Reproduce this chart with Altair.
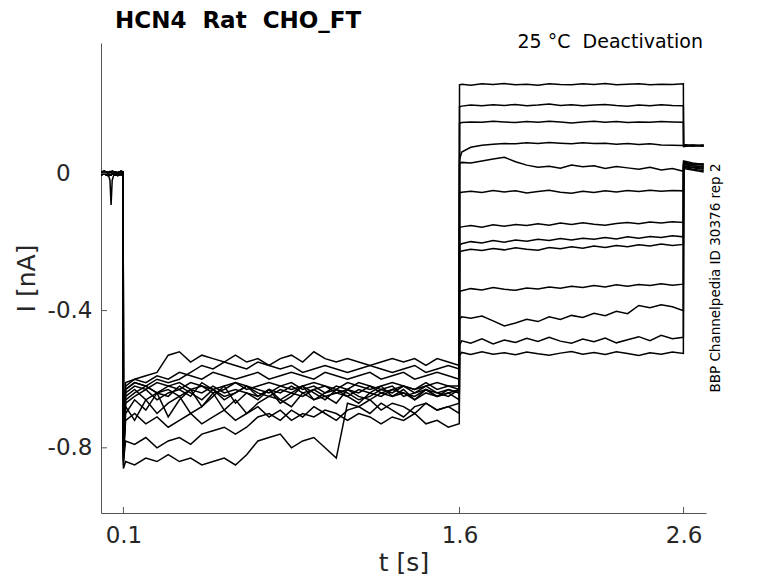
import altair as alt
import pandas as pd

# ---------------- data ----------------
t_hold = [0.0, 0.015, 0.03, 0.04, 0.045, 0.05, 0.06, 0.075, 0.09, 0.099]
t_step = [0.1, 0.11, 0.15, 0.2, 0.25, 0.3, 0.35, 0.4, 0.45, 0.5, 0.55, 0.6, 0.65, 0.7, 0.75,
          0.8, 0.85, 0.9, 0.95, 1.0, 1.05, 1.1, 1.15, 1.2, 1.25, 1.3, 1.35, 1.4, 1.45, 1.5, 1.55, 1.599]
t_test = [1.6, 1.61, 1.65, 1.7, 1.75, 1.8, 1.85, 1.9, 1.95, 2.0, 2.05, 2.1, 2.15, 2.2, 2.25,
          2.3, 2.35, 2.4, 2.45, 2.5, 2.55, 2.599]
t_tail = [2.6, 2.64, 2.69]

hold_a = [0.004, 0.006, 0.002, 0.005, 0.003, 0.006, 0.004, 0.002, 0.006, 0.004]
hold_b = [-0.004, -0.002, -0.006, -0.003, -0.005, -0.002, -0.004, -0.006, -0.003, -0.004]
hold_dip = [0.001, -0.001, 0.002, -0.02, -0.092, -0.02, 0.001, -0.002, 0.003, 0.001]

step_U1 = [-0.80, -0.62, -0.60, -0.59, -0.58, -0.53, -0.52, -0.55, -0.53, -0.54, -0.55, -0.53, -0.55, -0.54, -0.56, -0.54,
           -0.53, -0.55, -0.52, -0.54, -0.55, -0.54, -0.55, -0.56, -0.55, -0.54, -0.55, -0.54, -0.56, -0.54, -0.55, -0.56]
step_U2 = [-0.82, -0.63, -0.61, -0.62, -0.60, -0.61, -0.60, -0.58, -0.56, -0.57, -0.55, -0.56, -0.57, -0.55, -0.56, -0.57,
           -0.56, -0.58, -0.57, -0.56, -0.57, -0.58, -0.57, -0.56, -0.57, -0.58, -0.57, -0.56, -0.58, -0.57, -0.56, -0.57]
step_U3 = [-0.79, -0.61, -0.60, -0.61, -0.59, -0.60, -0.58, -0.59, -0.60, -0.58, -0.59, -0.60, -0.59, -0.58, -0.60, -0.59,
           -0.58, -0.59, -0.60, -0.58, -0.59, -0.60, -0.59, -0.58, -0.60, -0.59, -0.58, -0.60, -0.59, -0.58, -0.59, -0.60]
step_B1 = [-0.83, -0.64, -0.62, -0.63, -0.61, -0.62, -0.63, -0.61, -0.62, -0.63, -0.62, -0.61, -0.63, -0.62, -0.61, -0.62,
           -0.63, -0.62, -0.61, -0.62, -0.63, -0.61, -0.62, -0.63, -0.62, -0.61, -0.62, -0.63, -0.62, -0.61, -0.62, -0.63]
step_B2 = [-0.85, -0.66, -0.64, -0.62, -0.64, -0.63, -0.65, -0.63, -0.64, -0.62, -0.64, -0.63, -0.64, -0.65, -0.63, -0.64,
           -0.62, -0.64, -0.63, -0.65, -0.64, -0.63, -0.64, -0.62, -0.64, -0.63, -0.64, -0.65, -0.63, -0.64, -0.63, -0.64]
step_B3 = [-0.81, -0.65, -0.63, -0.66, -0.64, -0.65, -0.62, -0.64, -0.66, -0.63, -0.65, -0.64, -0.62, -0.64, -0.65, -0.63,
           -0.64, -0.65, -0.63, -0.62, -0.64, -0.65, -0.63, -0.64, -0.65, -0.63, -0.62, -0.64, -0.63, -0.65, -0.64, -0.63]
step_B4 = [-0.84, -0.70, -0.66, -0.69, -0.64, -0.71, -0.66, -0.63, -0.68, -0.65, -0.62, -0.67, -0.64, -0.66, -0.63, -0.67,
           -0.65, -0.62, -0.66, -0.64, -0.63, -0.65, -0.67, -0.64, -0.62, -0.65, -0.64, -0.66, -0.63, -0.65, -0.64, -0.66]
step_B5 = [-0.80, -0.68, -0.72, -0.66, -0.70, -0.67, -0.65, -0.70, -0.68, -0.64, -0.69, -0.66, -0.70, -0.67, -0.65, -0.66,
           -0.68, -0.64, -0.66, -0.65, -0.67, -0.63, -0.65, -0.66, -0.64, -0.65, -0.63, -0.66, -0.64, -0.65, -0.63, -0.64]
step_B6 = [-0.78, -0.63, -0.61, -0.62, -0.64, -0.62, -0.61, -0.63, -0.62, -0.64, -0.63, -0.61, -0.62, -0.63, -0.64, -0.62,
           -0.61, -0.63, -0.62, -0.64, -0.62, -0.63, -0.61, -0.62, -0.63, -0.64, -0.62, -0.63, -0.61, -0.63, -0.62, -0.62]
step_B7 = [-0.82, -0.67, -0.65, -0.63, -0.66, -0.64, -0.63, -0.65, -0.61, -0.63, -0.66, -0.64, -0.62, -0.65, -0.63, -0.66,
           -0.64, -0.62, -0.64, -0.66, -0.63, -0.64, -0.66, -0.65, -0.63, -0.62, -0.65, -0.64, -0.62, -0.64, -0.65, -0.63]
step_M1 = [-0.82, -0.72, -0.70, -0.73, -0.71, -0.74, -0.72, -0.70, -0.73, -0.71, -0.69, -0.72, -0.70, -0.68, -0.71, -0.69,
           -0.72, -0.70, -0.71, -0.69, -0.70, -0.72, -0.70, -0.71, -0.73, -0.71, -0.72, -0.70, -0.73, -0.72, -0.74, -0.73]
step_M2 = [-0.84, -0.78, -0.79, -0.77, -0.80, -0.78, -0.77, -0.79, -0.76, -0.75, -0.74, -0.76, -0.74, -0.71, -0.70, -0.72,
           -0.69, -0.71, -0.68, -0.70, -0.72, -0.69, -0.68, -0.70, -0.67, -0.69, -0.71, -0.68, -0.67, -0.69, -0.68, -0.70]
step_L1 = [-0.86, -0.84, -0.85, -0.83, -0.84, -0.82, -0.84, -0.83, -0.85, -0.84, -0.83, -0.85, -0.82, -0.78, -0.77, -0.76,
           -0.80, -0.78, -0.77, -0.80, -0.83, -0.67, -0.68, -0.66, -0.69, -0.67, -0.68, -0.70, -0.67, -0.69, -0.68, -0.67]

test_T1 = [0.258, 0.260, 0.257, 0.261, 0.259, 0.262, 0.258, 0.260, 0.257, 0.261, 0.259, 0.258, 0.261, 0.259, 0.262, 0.258,
           0.260, 0.261, 0.258, 0.260, 0.259, 0.261]
test_T2 = [0.194, 0.196, 0.199, 0.197, 0.200, 0.198, 0.201, 0.197, 0.199, 0.202, 0.198, 0.200, 0.197, 0.199, 0.201, 0.198,
           0.196, 0.199, 0.197, 0.200, 0.198, 0.197]
test_T3 = [0.146, 0.148, 0.150, 0.149, 0.152, 0.150, 0.148, 0.151, 0.149, 0.152, 0.150, 0.147, 0.150, 0.152, 0.149, 0.151,
           0.148, 0.150, 0.149, 0.151, 0.150, 0.149]
test_T4 = [0.040, 0.062, 0.076, 0.082, 0.085, 0.087, 0.086, 0.089, 0.087, 0.090, 0.088, 0.086, 0.089, 0.087, 0.088, 0.085,
           0.087, 0.084, 0.086, 0.083, 0.082, 0.081]
test_T5 = [0.028, 0.032, 0.030, 0.036, 0.042, 0.047, 0.034, 0.024, 0.018, 0.021, 0.015, 0.024, 0.019, 0.022, 0.014, 0.020,
           0.016, 0.012, 0.018, 0.010, 0.014, 0.006]
test_T6 = [-0.057, -0.055, -0.052, -0.056, -0.050, -0.054, -0.051, -0.057, -0.053, -0.049, -0.055, -0.058, -0.052, -0.056,
           -0.051, -0.054, -0.050, -0.053, -0.049, -0.052, -0.050, -0.051]
test_T7 = [-0.158, -0.156, -0.152, -0.157, -0.150, -0.154, -0.149, -0.152, -0.147, -0.151, -0.145, -0.149, -0.144, -0.148,
           -0.151, -0.146, -0.143, -0.147, -0.142, -0.145, -0.141, -0.143]
test_T8 = [-0.210, -0.205, -0.199, -0.203, -0.196, -0.201, -0.194, -0.198, -0.192, -0.196, -0.190, -0.194, -0.189, -0.192,
           -0.187, -0.191, -0.185, -0.189, -0.184, -0.187, -0.182, -0.185]
test_T9 = [-0.230, -0.226, -0.221, -0.225, -0.219, -0.223, -0.217, -0.221, -0.224, -0.216, -0.220, -0.214, -0.218, -0.212,
           -0.216, -0.210, -0.214, -0.208, -0.212, -0.206, -0.210, -0.207]
test_T10 = [-0.345, -0.342, -0.336, -0.340, -0.333, -0.338, -0.341, -0.334, -0.337, -0.331, -0.335, -0.329, -0.333, -0.327,
            -0.331, -0.325, -0.329, -0.324, -0.327, -0.322, -0.326, -0.323]
test_T11 = [-0.425, -0.418, -0.422, -0.416, -0.430, -0.445, -0.436, -0.425, -0.432, -0.418, -0.426, -0.414, -0.420, -0.408,
            -0.415, -0.402, -0.409, -0.385, -0.392, -0.383, -0.389, -0.400]
test_T12 = [-0.500, -0.488, -0.495, -0.482, -0.497, -0.486, -0.493, -0.481, -0.490, -0.478, -0.489, -0.495, -0.483, -0.491,
            -0.480, -0.494, -0.485, -0.476, -0.488, -0.472, -0.482, -0.478]
test_T13 = [-0.530, -0.522, -0.528, -0.520, -0.527, -0.523, -0.529, -0.521, -0.526, -0.530, -0.524, -0.519, -0.527, -0.522,
            -0.528, -0.520, -0.525, -0.531, -0.523, -0.527, -0.521, -0.525]

tail_T1 = [0.084, 0.081, 0.083]
tail_T2 = [0.080, 0.083, 0.079]
tail_T3 = [0.078, 0.082, 0.080]
tail_T4 = [0.081, 0.079, 0.082]
tail_T5 = [0.030, 0.026, 0.028]
tail_T6 = [0.025, 0.022, 0.020]
tail_T7 = [0.032, 0.028, 0.024]
tail_T8 = [0.022, 0.018, 0.015]
tail_T9 = [0.036, 0.030, 0.026]
tail_T10 = [0.020, 0.016, 0.012]
tail_T11 = [0.018, 0.012, 0.008]
tail_T12 = [0.028, 0.022, 0.018]
tail_T13 = [0.014, 0.010, 0.004]

x_ticks = [0.1, 1.6, 2.6]
y_ticks = [0, -0.4, -0.8]

NB = "\u00a0"
title_text = "HCN4" + NB + NB + "Rat" + NB + NB + "CHO_FT"
cond_text = "25" + NB + "°C" + NB + NB + "Deactivation"
side_text = "BBP Channelpedia ID 30376 rep 2"
zero_label = "0" + NB + NB + NB + "\u2060"

# ---------------- build long table ----------------
sweeps = [
    (hold_dip, step_B1, test_T1, tail_T1),
    (hold_a, step_U1, test_T2, tail_T2),
    (hold_b, step_B2, test_T3, tail_T3),
    (hold_a, step_B6, test_T4, tail_T4),
    (hold_b, step_U2, test_T5, tail_T5),
    (hold_a, step_B3, test_T6, tail_T6),
    (hold_b, step_B7, test_T7, tail_T7),
    (hold_a, step_U3, test_T8, tail_T8),
    (hold_b, step_B4, test_T9, tail_T9),
    (hold_a, step_M1, test_T10, tail_T10),
    (hold_b, step_B5, test_T11, tail_T11),
    (hold_a, step_M2, test_T12, tail_T12),
    (hold_b, step_L1, test_T13, tail_T13),
]
rows = []
for i, (h, s, te, ta) in enumerate(sweeps):
    k = 0
    for tt, vv in zip(t_hold + t_step + t_test + t_tail, h + s + te + ta):
        rows.append({"sweep": i, "k": k, "t": tt, "I": vv})
        k += 1
df = pd.DataFrame(rows)

W, H = 605, 470
FONT = "DejaVu Sans"
AX = "#262626"
DOM = "#555555"
xscale = alt.Scale(domain=[0, 2.7], nice=False, zero=False)
yscale = alt.Scale(domain=[-0.99, 0.38], nice=False, zero=False)

x_axis = alt.Axis(values=x_ticks, tickSize=0, labelFontSize=23, labelPadding=11,
                  titleFontSize=25, titleFontWeight="normal", titlePadding=3,
                  domainColor=DOM, labelColor=AX, titleColor=AX,
                  grid=False, labelFont=FONT, titleFont=FONT, format=".1f")
y_axis = alt.Axis(values=y_ticks, tickSize=0, labelFontSize=23, labelPadding=9,
                  titleFontSize=25, titleFontWeight="normal", titlePadding=8,
                  domainColor=DOM, labelColor=AX, titleColor=AX,
                  grid=False, labelFont=FONT, titleFont=FONT,
                  labelExpr="datum.value == 0 ? '" + zero_label + "' : '-' + format(abs(datum.value), '.1f')")

lines = alt.Chart(df).mark_line(color="black", strokeWidth=1.5, clip=True).encode(
    x=alt.X("t:Q", scale=xscale, title="t [s]", axis=x_axis),
    y=alt.Y("I:Q", scale=yscale, title="I [nA]", axis=y_axis),
    detail="sweep:N",
    order="k:Q",
)

ytick_rules = alt.Chart(pd.DataFrame({"I": y_ticks})).mark_rule(color=DOM, strokeWidth=1).encode(
    y=alt.Y("I:Q", scale=yscale, title="I [nA]", axis=y_axis), x=alt.value(0), x2=alt.value(6))
xtick_rules = alt.Chart(pd.DataFrame({"t": x_ticks})).mark_rule(color=DOM, strokeWidth=1).encode(
    x=alt.X("t:Q", scale=xscale, title="t [s]", axis=x_axis), y=alt.value(H), y2=alt.value(H - 6))

title_mark = alt.Chart(pd.DataFrame({"s": [title_text]})).mark_text(
    font=FONT, fontSize=23, fontWeight="bold", color="black", align="left", baseline="alphabetic").encode(
    text="s:N", x=alt.value(14), y=alt.value(-15))
cond_mark = alt.Chart(pd.DataFrame({"s": [cond_text]})).mark_text(
    font=FONT, fontSize=19, color="black", align="right", baseline="alphabetic").encode(
    text="s:N", x=alt.value(602), y=alt.value(5))
side_mark = alt.Chart(pd.DataFrame({"s": [side_text]})).mark_text(
    font=FONT, fontSize=13.5, color="black", align="center", baseline="middle", angle=270).encode(
    text="s:N", x=alt.value(615), y=alt.value(235))

chart = alt.layer(lines, ytick_rules, xtick_rules, title_mark, cond_mark, side_mark).properties(
    width=W, height=H,
    background="white",
    padding={"left": 93, "top": 35, "right": 64, "bottom": 62},
    autosize=alt.AutoSizeParams(type="none"),
).configure_view(strokeWidth=0, stroke="transparent")

chart.save("out.html", embed_options={"renderer": "svg", "actions": False})
